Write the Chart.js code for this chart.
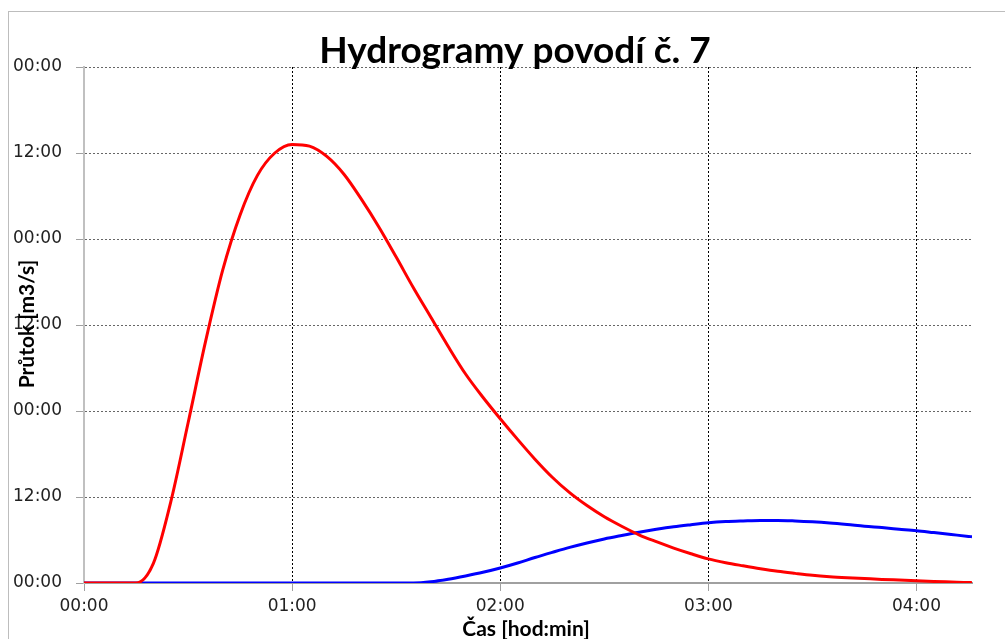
<!DOCTYPE html>
<html lang="cs">
<head>
    <meta charset="UTF-8">
    <title>Hydrogramy povodí č. 7</title>
    <script src="https://cdn.jsdelivr.net/npm/chart.js"></script>
    <style>
        body { margin: 0; background: #fff; }
        #chart { display: block; }
    </style>
</head>
<body>
    <canvas id="chart" width="1005" height="639"></canvas>
    <script>
        // Čas v minutách
        var casMin = [0, 5, 10, 15, 20, 25, 30, 35, 40, 45, 50, 55, 60, 65, 70, 75, 80, 85, 90, 95,
            100, 105, 110, 115, 120, 125, 130, 135, 140, 145, 150, 155, 160, 165, 170, 175, 180, 185, 190, 195,
            200, 205, 210, 215, 220, 225, 230, 235, 240, 245, 250, 255, 256];

        // Průtok [m3/s] - červená křivka
        var prutokCerveny = [0, 0, 0, 0, 0.114, 0.47, 0.93, 1.40, 1.82, 2.14, 2.37, 2.50, 2.55, 2.54, 2.48, 2.375, 2.23, 2.07, 1.895, 1.715,
            1.545, 1.375, 1.215, 1.08, 0.955, 0.835, 0.72, 0.615, 0.525, 0.45, 0.385, 0.33, 0.28, 0.24, 0.203, 0.17, 0.14, 0.118, 0.10, 0.083,
            0.068, 0.056, 0.045, 0.037, 0.031, 0.026, 0.021, 0.017, 0.013, 0.009, 0.006, 0.003, 0.002];

        // Průtok [m3/s] - modrá křivka
        var prutokModry = [0, 0, 0, 0, 0, 0, 0, 0, 0, 0, 0, 0, 0, 0, 0, 0, 0, 0, 0, 0,
            0.007, 0.022, 0.041, 0.062, 0.087, 0.116, 0.148, 0.178, 0.207, 0.233, 0.256, 0.276, 0.295, 0.312, 0.327, 0.339, 0.35, 0.357, 0.361, 0.364,
            0.364, 0.361, 0.356, 0.349, 0.34, 0.33, 0.322, 0.313, 0.304, 0.293, 0.282, 0.271, 0.269];

        var titulek = 'Hydrogramy povodí č. 7';
        var osaX = 'Čas [hod:min]';
        var osaY = 'Průtok [m3/s]';

        function body(hodnoty) {
            return casMin.map(function (t, i) { return { x: t, y: hodnoty[i] }; });
        }

        function dvojcif(n) {
            return (n < 10 ? '0' : '') + n;
        }

        // texty a rámeček
        var popisky = {
            id: 'popisky',
            beforeDraw: function (chart) {
                var c = chart.ctx;
                c.save();
                c.fillStyle = '#fff';
                c.fillRect(0, 0, chart.width, chart.height);
                c.strokeStyle = '#bdbdbd';
                c.lineWidth = 1;
                c.strokeRect(8.5, 11.5, 1010, 650);
                c.restore();
            },
            afterDraw: function (chart) {
                var c = chart.ctx;
                c.save();
                c.fillStyle = '#000';
                c.textAlign = 'center';
                c.textBaseline = 'alphabetic';
                c.font = 'bold 37px Lato';
                c.fillText(titulek, 515, 63);
                c.font = 'bold 21px Lato';
                c.fillText(osaX, 526, 636);
                c.translate(34, 324);
                c.rotate(-Math.PI / 2);
                c.fillText(osaY, 0, 0);
                c.restore();
            }
        };

        var ctx = document.getElementById('chart').getContext('2d');
        var chart = new Chart(ctx, {
            type: 'line',
            data: {
                datasets: [{
                    data: body(prutokCerveny),
                    borderColor: '#ff0000',
                    borderWidth: 3,
                    pointRadius: 0,
                    cubicInterpolationMode: 'monotone',
                    fill: false
                }, {
                    data: body(prutokModry),
                    borderColor: '#0000ff',
                    borderWidth: 3,
                    pointRadius: 0,
                    cubicInterpolationMode: 'monotone',
                    fill: false
                }]
            },
            options: {
                responsive: false,
                animation: false,
                devicePixelRatio: 1,
                layout: { padding: { left: 0, right: 33, top: 67, bottom: 0 } },
                plugins: {
                    legend: { display: false },
                    tooltip: { enabled: false }
                },
                scales: {
                    x: {
                        type: 'linear',
                        min: 0,
                        max: 256,
                        afterFit: function (s) { s.height = 56; },
                        ticks: {
                            stepSize: 60,
                            includeBounds: false,
                            maxRotation: 0,
                            padding: 5,
                            color: '#222',
                            font: { family: 'DejaVu Sans', size: 17 },
                            callback: function (v) {
                                return dvojcif(Math.floor(v / 60)) + ':' + dvojcif(v % 60);
                            }
                        },
                        grid: {
                            color: function (c) { return c.tick && c.tick.value === 0 ? 'rgba(0,0,0,0)' : '#000'; },
                            lineWidth: 1,
                            tickLength: 8,
                            tickColor: '#a0a0a0'
                        },
                        border: { color: '#a0a0a0', width: 2, dash: [2, 2] }
                    },
                    y: {
                        min: 0,
                        max: 3,
                        afterFit: function (s) { s.width = 84; },
                        ticks: {
                            stepSize: 0.5,
                            padding: 14,
                            color: '#222',
                            font: { family: 'DejaVu Sans', size: 17 },
                            callback: function (v) {
                                var h = Math.round(v * 24) % 24;
                                return dvojcif(h) + ':00';
                            }
                        },
                        grid: {
                            color: function (c) { return c.tick && c.tick.value === 0 ? 'rgba(0,0,0,0)' : '#666'; },
                            lineWidth: 1,
                            tickLength: 8,
                            tickColor: '#a0a0a0'
                        },
                        border: { color: '#c0c0c0', width: 2, dash: [2, 2] }
                    }
                }
            },
            plugins: [popisky]
        });
    </script>
</body>
</html>
